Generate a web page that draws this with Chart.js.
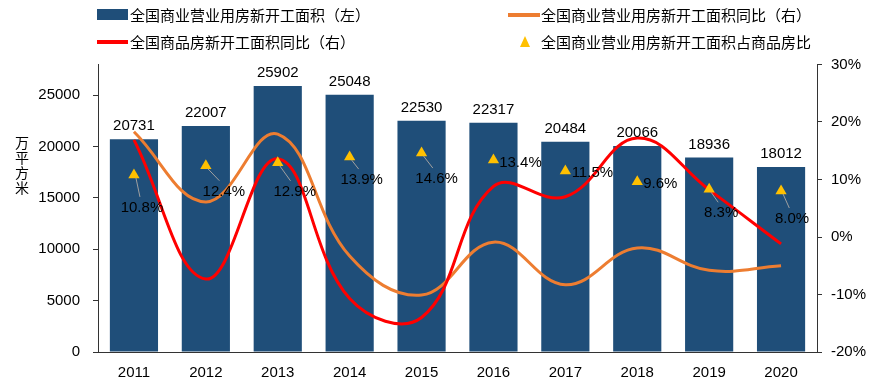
<!DOCTYPE html>
<html>
<head>
<meta charset="utf-8">
<script src="https://cdn.jsdelivr.net/npm/chart.js@4.4.1/dist/chart.umd.min.js"></script>
<style>
  html, body { margin: 0; padding: 0; background: #fff; }
  #wrap { width: 883px; height: 385px; position: relative; }
</style>
</head>
<body>
<div id="wrap"><canvas id="chart" width="883" height="385"></canvas></div>
<script>
// data
const years = ["2011", "2012", "2013", "2014", "2015", "2016", "2017", "2018", "2019", "2020"];
const bizArea = [20731, 22007, 25902, 25048, 22530, 22317, 20484, 20066, 18936, 18012];
const bizAreaYoy = [18.3, 6.1, 17.9, -3.3, -10.1, -0.9, -8.3, -1.9, -5.8, -5.0];
const housingYoy = [16.9, -7.3, 13.6, -10.7, -14.0, 8.8, 7.0, 17.2, 8.2, -1.2];
const bizShare = [10.8, 12.4, 12.9, 13.9, 14.6, 13.4, 11.5, 9.6, 8.3, 8.0];
const leftTicks = [0, 5000, 10000, 15000, 20000, 25000];
const rightTicks = [-20, -10, 0, 10, 20, 30];

const seriesNames = [
  "全国商业营业用房新开工面积（左）",
  "全国商业营业用房新开工面积同比（右）",
  "全国商品房新开工面积同比（右）",
  "全国商业营业用房新开工面积占商品房比",
];

// where each share label sits relative to its triangle, and whether it has a leader line
const shareLabelOffset = [
  [8, 33, true], [18, 26, true], [17, 29, true], [12, 23, true], [15, 26, true],
  [27, 3, false], [27, 2, false], [23, 2, false], [12, 24, true], [11, 28, true],
];

const NUM_FONT = "15px 'Liberation Sans', Arial, sans-serif";
const CJK_FONT = "15px 'Noto Sans CJK SC', sans-serif";
const BLUE = "#1F4E79";
const ORANGE = "#ED7D31";
const RED = "#FF0000";
const GOLD = "#FFC000";
const AXIS = "#333333";

const labelsPlugin = {
  id: "labels",
  afterDatasetsDraw(chart) {
    const ctx = chart.ctx;
    const x = chart.scales.x;
    const y = chart.scales.y;
    const y1 = chart.scales.y1;
    ctx.save();
    ctx.font = NUM_FONT;
    ctx.fillStyle = "#000";
    ctx.textAlign = "center";
    ctx.textBaseline = "middle";
    bizArea.forEach((v, i) => {
      ctx.fillText(String(v), x.getPixelForValue(i), y.getPixelForValue(v) - 13);
    });
    bizShare.forEach((v, i) => {
      const px = x.getPixelForValue(i);
      const py = y1.getPixelForValue(v);
      const [dx, dy, leader] = shareLabelOffset[i];
      if (leader) {
        ctx.strokeStyle = "#A0A0A0";
        ctx.lineWidth = 1;
        ctx.beginPath();
        ctx.moveTo(px + 2, py + 3);
        ctx.lineTo(px + dx * 0.75, py + dy - 11);
        ctx.stroke();
      }
      ctx.fillStyle = "#000";
      ctx.fillText(v.toFixed(1) + "%", px + dx, py + dy);
    });
    ctx.restore();
  },
  afterDraw(chart) {
    const ctx = chart.ctx;
    ctx.save();
    // legend
    ctx.font = CJK_FONT;
    ctx.textAlign = "left";
    ctx.textBaseline = "middle";
    ctx.fillStyle = BLUE;
    ctx.fillRect(97, 9, 31, 11);
    ctx.fillStyle = "#000";
    ctx.fillText(seriesNames[0], 130, 15);

    ctx.strokeStyle = ORANGE;
    ctx.lineWidth = 4;
    ctx.beginPath(); ctx.moveTo(508, 15); ctx.lineTo(540, 15); ctx.stroke();
    ctx.fillText(seriesNames[1], 541, 15);

    ctx.strokeStyle = RED;
    ctx.beginPath(); ctx.moveTo(97, 42); ctx.lineTo(128, 42); ctx.stroke();
    ctx.fillText(seriesNames[2], 130, 42);

    ctx.fillStyle = GOLD;
    ctx.beginPath();
    ctx.moveTo(525, 36); ctx.lineTo(530, 47); ctx.lineTo(520, 47); ctx.closePath();
    ctx.fill();
    ctx.fillStyle = "#000";
    ctx.fillText(seriesNames[3], 541, 42);

    // left axis unit, stacked upright
    ctx.font = "14px 'Noto Sans CJK SC', sans-serif";
    ctx.textAlign = "center";
    ["万", "平", "方", "米"].forEach((ch, i) => ctx.fillText(ch, 22, 143 + i * 15));
    ctx.restore();
  },
};

new Chart(document.getElementById("chart"), {
  data: {
    labels: years,
    datasets: [
      {
        type: "bar",
        label: seriesNames[0],
        data: bizArea,
        yAxisID: "y",
        backgroundColor: BLUE,
        barPercentage: 0.67,
        categoryPercentage: 1,
        order: 4,
      },
      {
        type: "line",
        label: seriesNames[1],
        data: bizAreaYoy,
        yAxisID: "y1",
        borderColor: ORANGE,
        borderWidth: 3,
        tension: 0.4,
        pointRadius: 0,
        order: 3,
      },
      {
        type: "line",
        label: seriesNames[2],
        data: housingYoy,
        yAxisID: "y1",
        borderColor: RED,
        borderWidth: 3,
        tension: 0.4,
        pointRadius: 0,
        order: 2,
      },
      {
        type: "line",
        label: seriesNames[3],
        data: bizShare,
        yAxisID: "y1",
        showLine: false,
        pointStyle: "triangle",
        pointRadius: 6.5,
        pointBackgroundColor: GOLD,
        pointBorderColor: GOLD,
        pointBorderWidth: 0,
        order: 1,
      },
    ],
  },
  options: {
    responsive: false,
    animation: false,
    layout: { padding: { top: 64.5, left: 0, right: 0, bottom: 0 } },
    plugins: { legend: { display: false }, tooltip: { enabled: false } },
    scales: {
      x: {
        offset: true,
        grid: { display: false, drawTicks: false },
        border: { color: AXIS, width: 1 },
        ticks: { font: { family: "'Liberation Sans', Arial, sans-serif", size: 15 }, color: "#000", padding: 12 },
        afterFit(s) { s.height = 33; },
      },
      y: {
        position: "left",
        min: 0,
        max: 28000,
        afterBuildTicks(s) { s.ticks = leftTicks.map((v) => ({ value: v })); },
        grid: { display: true, drawOnChartArea: false, drawTicks: true, tickLength: 5, color: AXIS },
        border: { color: AXIS, width: 1 },
        ticks: {
          font: { family: "'Liberation Sans', Arial, sans-serif", size: 15 },
          color: "#000",
          padding: 13,
          callback: (v) => String(v),
        },
        afterFit(s) { s.width = 98; },
      },
      y1: {
        position: "right",
        min: -20,
        max: 30,
        afterBuildTicks(s) { s.ticks = rightTicks.map((v) => ({ value: v })); },
        grid: { display: true, drawOnChartArea: false, drawTicks: true, tickLength: 5, color: AXIS },
        border: { color: AXIS, width: 1 },
        ticks: {
          font: { family: "'Liberation Sans', Arial, sans-serif", size: 15 },
          color: "#000",
          padding: 9,
          callback: (v) => v + "%",
        },
        afterFit(s) { s.width = 66; },
      },
    },
  },
  plugins: [labelsPlugin],
});
</script>
</body>
</html>
